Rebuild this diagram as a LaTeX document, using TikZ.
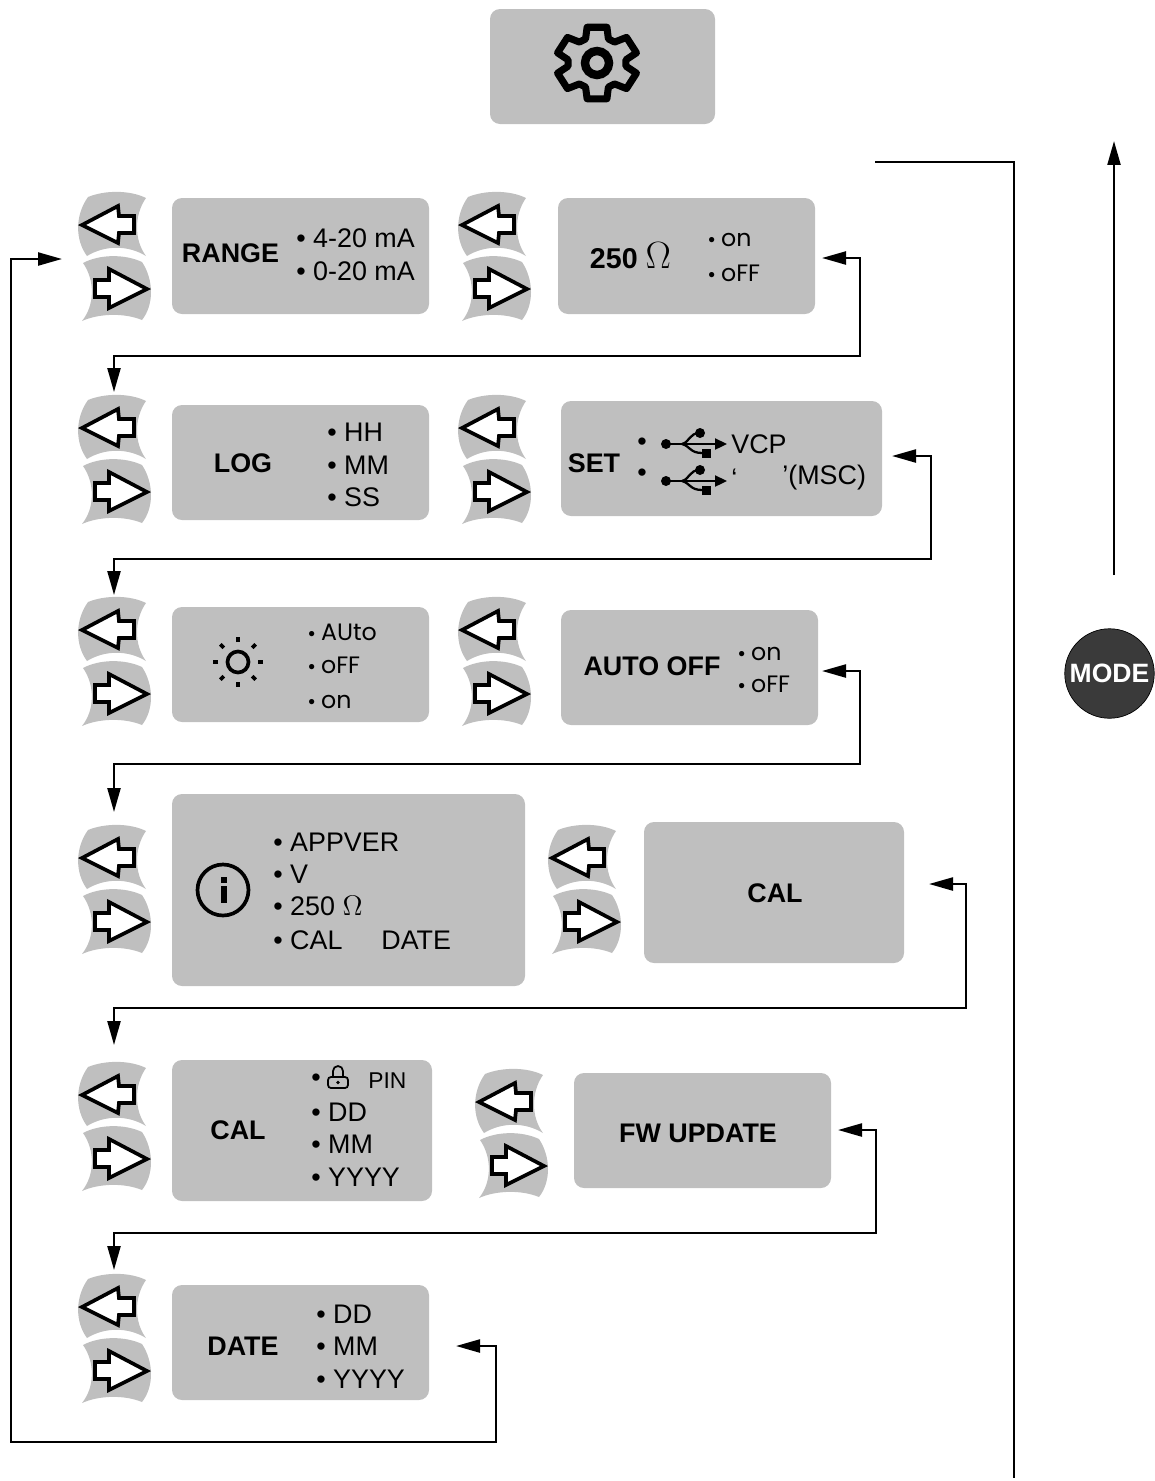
\documentclass[tikz,border=0pt]{standalone}
\usepackage{amsmath,amssymb}
\usepackage{fontspec}
\setmainfont{Liberation Sans}
\newfontfamily\lcdfont{Poppins}
\usetikzlibrary{calc,arrows.meta}
\definecolor{panelgrey}{HTML}{BFBFBF}
\definecolor{modedark}{HTML}{3A3A3A}
\tikzset{
  panel/.style={rectangle,rounded corners=2mm,fill=panelgrey,inner sep=0},
  title/.style={font=\fontsize{15.3}{18}\selectfont\bfseries,inner sep=0},
  opt/.style={anchor=west,font=\fontsize{15.3}{18}\selectfont,inner sep=0},
  optsmall/.style={anchor=west,font=\fontsize{13}{16}\selectfont,inner sep=0},
  lcd/.style={anchor=base west,inner sep=0},
  keyface/.style={fill=panelgrey},
  keyarrow/.style={draw=black,line width=2.1pt,fill=white,line join=miter},
  link/.style={line width=1.3pt,{Triangle[length=4.8mm,width=2.6mm]}-{Triangle[length=4.8mm,width=2.6mm]}},
  linkend/.style={line width=1.3pt,-{Triangle[length=4.8mm,width=2.6mm]}},
  wire/.style={line width=1.3pt},
  modebtn/.style={circle,draw=black,line width=0.4pt,fill=modedark,minimum size=1.79cm,inner sep=0,text=white,
                  font=\fontsize{15.1}{18}\selectfont\bfseries},
}
\newcommand{\lcdtxt}[1]{\raisebox{-0.4pt}{\fontsize{11}{12}\selectfont •}\hspace{3.4pt}{\lcdfont\fontsize{13.5}{16}\selectfont #1}}
\begin{document}
\begin{tikzpicture}[x=0.02cm,y=-0.02cm]
  \useasboundingbox (0,0) rectangle (1154,1481);
  % a pair of left/right keys, drawn in the coordinates of the top left pair
  \newcommand{\keypair}[2]{% #1 = x offset, #2 = y offset
    \begin{scope}[shift={(#1,#2)}]
      \fill[keyface] (88,197) .. controls (105,190) and (130,190) .. (146,198)
        .. controls (134,215) and (134,240) .. (146,256)
        .. controls (128,245) and (105,245) .. (87,256)
        .. controls (75,240) and (75,215) .. (88,197) -- cycle;
      \fill[keyface] (83,263) .. controls (100,254) and (125,254) .. (142,262)
        .. controls (154,280) and (154,305) .. (142,320)
        .. controls (125,313) and (100,313) .. (82,321)
        .. controls (95,305) and (95,280) .. (83,263) -- cycle;
      \draw[keyarrow] (82,225) -- (118,206) -- (119,216) -- (134,216) -- (134,233)
        -- (119,233) -- (118,243) -- cycle;
      \draw[keyarrow] (147,289) -- (109,269) -- (109,280) -- (95,280) -- (95,297)
        -- (109,297) -- (109,308) -- cycle;
    \end{scope}
  }
  \newcommand{\panelbox}[5]{% name, centre x, centre y, width, height
    \node[panel,minimum width=#4*0.02cm,minimum height=#5*0.02cm] (#1) at (#2,#3) {};
  }
  \newcommand{\usbicon}[2]{% position of the left dot
    \begin{scope}[shift={(#1,#2)}]
      \fill (0,0) circle (5);
      \draw[line width=1.3pt,-{Triangle[length=2.4mm,width=2.2mm]}] (0,0) -- (61,0);
      \draw[line width=1.3pt] (16,0) .. controls (24,-2) and (23,-11) .. (34,-11);
      \fill (34,-11) circle (5);
      \draw[line width=1.3pt] (16,0) .. controls (24,2) and (24,9) .. (36,9);
      \fill (36,5) rectangle (45,14);
    \end{scope}
  }

  \keypair{0}{0}     \keypair{380}{0}
  \keypair{0}{203}   \keypair{380}{203}
  \keypair{0}{405}   \keypair{380}{405}
  \keypair{0}{633}   \keypair{470}{633}
  \keypair{0}{870}   \keypair{397}{877}
  \keypair{0}{1082}

  % settings panel with the gear
  \panelbox{gearbox}{602.5}{66.5}{225}{115}
  \begin{scope}[shift={(597,63)},xscale=1.08,yscale=0.97]
    \draw[line width=4pt,line join=round] (76:38)
      \foreach \a in {90,150,...,390} { -- (\a-14:38) -- (\a+14:38) -- (\a+23:27) -- (\a+37:27) } -- cycle;
  \end{scope}
  \draw[line width=4.8pt] (597,63) circle (12);

  % row one
  \panelbox{range}{300.5}{256}{257}{116}
  \node[title] (rangetitle) at (230.5,253) {RANGE};
  \node[opt] (rangea) at (296,238) {• 4-20 mA};
  \node[opt] (rangeb) at (296,271) {• 0-20 mA};
  \panelbox{shunt}{686.5}{256}{257}{116}
  \node[title,font=\fontsize{16.3}{18}\selectfont\bfseries] (shunttitle) at (630.5,256) {250 {\mdseries\scalebox{1.25}{$\Omega$}}};
  \node[lcd] (shunta) at (708,246) {\lcdtxt{on}};
  \node[lcd] (shuntb) at (708,281) {\lcdtxt{oFF}};

  % row two
  \panelbox{log}{300.5}{462.5}{257}{115}
  \node[title] (logtitle) at (243,463) {LOG};
  \node[opt] (loga) at (327,432) {• HH};
  \node[opt] (logb) at (327,465) {• MM};
  \node[opt] (logc) at (327,497) {• SS};
  \panelbox{set}{721.5}{458.5}{321}{115}
  \node[title] (settitle) at (594,463) {SET};
  \node[opt] (seta) at (637,444) {•};
  \node[opt] (setb) at (637,475) {•};
  \usbicon{666}{444}
  \usbicon{666}{481}
  \node[opt] (vcp) at (731,444) {VCP};
  \node[opt] (msca) at (731,478) {‘};
  \node[opt] (mscb) at (782,478) {’(MSC)};

  % row three
  \panelbox{bright}{300.5}{664.5}{257}{115}
  \draw[line width=2.1pt] (238,662) circle (10.5);
  \foreach \a in {0,45,...,315} { \draw[line width=2.1pt] ($(238,662)+(\a:20)$) -- ($(238,662)+(\a:25)$); }
  \node[lcd] (brighta) at (308,640) {\lcdtxt{AUto}};
  \node[lcd] (brightb) at (308,673) {\lcdtxt{oFF}};
  \node[lcd] (brightc) at (308,708) {\lcdtxt{on}};
  \panelbox{autooff}{689.5}{667.5}{257}{115}
  \node[title] (autotitle) at (652,666) {AUTO OFF};
  \node[lcd] (autoa) at (738,660) {\lcdtxt{on}};
  \node[lcd] (autob) at (738,692) {\lcdtxt{oFF}};

  % row four
  \panelbox{info}{348.5}{890}{353}{192}
  \draw[line width=2.1pt] (223,890) circle (25.5);
  \fill (221,886) rectangle (227,903);
  \fill (221,877) rectangle (227,883);
  \node[opt] (infoa) at (273,842) {• APPVER};
  \node[opt] (infob) at (273,874) {• V};
  \node[opt] (infoc) at (273,906) {• 250 \scalebox{1.12}{$\Omega$}};
  \node[opt] (infod) at (273,940) {• CAL};
  \node[opt] (infoe) at (381,940) {DATE};
  \panelbox{cal}{774}{892.5}{260}{141}
  \node[title] (caltitle) at (775,893) {CAL};

  % row five
  \panelbox{caldate}{302}{1130.5}{260}{141}
  \node[title] (caldatetitle) at (238,1130) {CAL};
  \node[opt] (calb) at (311,1080) {•};
  \draw[line width=1pt,rounded corners=0.6mm] (328,1077) rectangle (348,1088);
  \draw[line width=1pt] (333,1077) -- (333,1071) arc (180:360:5 and 5) -- (343,1077);
  \fill (338,1082.5) circle (1.8);
  \node[optsmall] (pin) at (368,1081) {PIN};
  \node[opt] (calc) at (311,1112) {• DD};
  \node[opt] (cald) at (311,1144) {• MM};
  \node[opt] (cale) at (311,1177) {• YYYY};
  \panelbox{fwupdate}{702.5}{1130.5}{257}{115}
  \node[title] (fwtitle) at (698,1133) {FW UPDATE};

  % row six
  \panelbox{date}{300.5}{1342.5}{257}{115}
  \node[title] (datetitle) at (243,1346) {DATE};
  \node[opt] (datea) at (316,1314) {• DD};
  \node[opt] (dateb) at (316,1346) {• MM};
  \node[opt] (datec) at (316,1379) {• YYYY};

  % loop ends between the rows
  \coordinate (ina) at (822,258);  \coordinate (turna) at (860,356);  \coordinate (outa) at (114,392);
  \coordinate (inb) at (892,456);  \coordinate (turnb) at (931,559);  \coordinate (outb) at (114,595);
  \coordinate (inc) at (822,671);  \coordinate (turnc) at (860,764);  \coordinate (outc) at (114,812);
  \coordinate (ind) at (929,884);  \coordinate (turnd) at (966,1008); \coordinate (outd) at (114,1045);
  \coordinate (ine) at (838,1130); \coordinate (turne) at (876,1233); \coordinate (oute) at (114,1270);
  \coordinate (inf) at (456,1346); \coordinate (turnf) at (496,1442);
  \coordinate (backa) at (11,1442); \coordinate (backb) at (11,259); \coordinate (backc) at (62,259);
  \foreach \n in {a,b,c,d,e} { \draw[link] (in\n) -| (turn\n) -| (out\n); }
  \draw[link] (inf) -| (turnf) -- (backa) -- (backb) -- (backc);

  % mode key and its lines
  \node[modebtn] (mode) at (1109.5,673.5) {MODE};
  \coordinate (modeup) at (1114,575); \coordinate (modetip) at (1114,141);
  \draw[linkend] (modeup) -- (modetip);
  \coordinate (exita) at (875,162); \coordinate (exitb) at (1014,162); \coordinate (exitc) at (1014,1478);
  \draw[wire] (exita) -- (exitb) -- (exitc);
\end{tikzpicture}
\end{document}
